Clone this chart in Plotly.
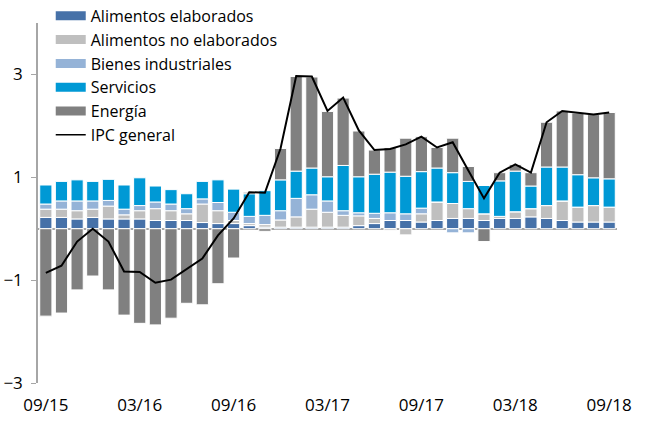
import plotly.graph_objects as go

months = ["09/15","10/15","11/15","12/15","01/16","02/16","03/16","04/16","05/16","06/16",
          "07/16","08/16","09/16","10/16","11/16","12/16","01/17","02/17","03/17","04/17",
          "05/17","06/17","07/17","08/17","09/17","10/17","11/17","12/17","01/18","02/18",
          "03/18","04/18","05/18","06/18","07/18","08/18","09/18"]

alim_elab = [0.22,0.22,0.19,0.22,0.19,0.19,0.19,0.16,0.16,0.16,
             0.12,0.10,0.10,0.06,0.03,0.03,0.03,0.03,0.03,0.03,
             0.06,0.10,0.16,0.16,0.13,0.16,0.20,0.20,0.16,0.20,
             0.20,0.23,0.20,0.16,0.13,0.13,0.13]
alim_no_elab = [0.16,0.16,0.16,0.16,0.25,0.08,0.16,0.23,0.19,0.13,
                0.36,0.25,0.06,0.04,0.05,0.14,0.20,0.35,0.29,0.23,
                0.19,0.10,-0.03,-0.12,0.16,0.36,0.29,0.19,0.13,0.04,
                0.13,0.16,0.25,0.38,0.29,0.32,0.29]
bienes_ind = [0.10,0.16,0.19,0.16,0.11,0.11,0.10,0.13,0.13,0.10,
              0.10,0.16,0.16,0.14,0.18,0.18,0.36,0.28,0.22,0.09,
              0.06,0.10,0.15,0.13,0.11,0.00,-0.08,-0.08,0.00,0.00,
              0.00,0.00,0.00,0.00,0.00,0.00,0.00]
servicios = [0.37,0.38,0.41,0.38,0.41,0.47,0.54,0.31,0.28,0.29,
             0.34,0.44,0.45,0.44,0.48,0.60,0.53,0.52,0.47,0.88,
             0.70,0.76,0.79,0.73,0.71,0.66,0.60,0.53,0.55,0.69,
             0.79,0.44,0.75,0.66,0.63,0.54,0.55]
energia = [-1.70,-1.64,-1.19,-0.92,-1.19,-1.68,-1.84,-1.87,-1.74,-1.45,
           -1.48,-1.07,-0.57,0.03,-0.05,0.61,1.84,1.77,1.27,1.31,
           0.89,0.47,0.48,0.74,0.68,0.40,0.67,0.29,-0.25,0.16,
           0.13,0.26,0.87,1.09,1.20,1.23,1.29]
ipc_general = [-0.86,-0.72,-0.25,0.00,-0.25,-0.83,-0.84,-1.05,-0.99,-0.79,
               -0.58,-0.13,0.20,0.71,0.70,1.56,2.97,2.96,2.29,2.55,
               1.91,1.53,1.55,1.64,1.79,1.58,1.68,1.13,0.59,1.09,
               1.25,1.09,2.07,2.29,2.25,2.22,2.26]

tick_labels = ["09/15","03/16","09/16","03/17","09/17","03/18","09/18"]
y_ticks = [-3, -1, 1, 3]

series = [
    ("Alimentos elaborados", alim_elab, "#4671A8"),
    ("Alimentos no elaborados", alim_no_elab, "#BFBFBF"),
    ("Bienes industriales", bienes_ind, "#95B3D7"),
    ("Servicios", servicios, "#0099D5"),
    ("Energía", energia, "#808080"),
]

fig = go.Figure()
for name, vals, col in series:
    fig.add_trace(go.Bar(x=months, y=vals, name=name, marker=dict(color=col, line=dict(color="white", width=1)),
                         showlegend=False))
fig.add_trace(go.Scatter(x=months, y=ipc_general, mode="lines", name="IPC general",
                         line=dict(color="black", width=2), showlegend=False))

# legend entries (wide swatches)
for name, vals, col in series:
    fig.add_trace(go.Scatter(x=[None], y=[None], mode="lines", name=name,
                             line=dict(color=col, width=9)))
fig.add_trace(go.Scatter(x=[None], y=[None], mode="lines", name="IPC general",
                         line=dict(color="black", width=1.5)))

fig.update_layout(
    width=646, height=422,
    margin=dict(l=38, r=29, t=23, b=39, autoexpand=False),
    paper_bgcolor="white", plot_bgcolor="white",
    barmode="relative", bargap=0.22,
    font=dict(family="Open Sans, Lato, sans-serif", size=17, color="black"),
    legend=dict(x=0.022, y=1.067, xanchor="left", yanchor="top", traceorder="normal",
                bgcolor="rgba(0,0,0,0)", font=dict(size=16), tracegroupgap=0, itemwidth=30),
)
fig.update_xaxes(type="category", tickvals=tick_labels, ticktext=tick_labels, showgrid=False,
                 showline=False, ticks="", ticklabelstandoff=10, range=[-0.5, 36.5], automargin=False)
fig.update_yaxes(range=[-3, 4], tickvals=y_ticks, showgrid=False, showline=True, linecolor="#A6A6A6",
                 linewidth=1.5, ticks="outside", ticklen=5, tickcolor="#A6A6A6",
                 zeroline=True, zerolinecolor="#A6A6A6", zerolinewidth=1.5, ticklabelstandoff=5,
                 automargin=False)

fig.write_html("out.html", config={"displayModeBar": False},
               post_script="document.body.style.margin='0';")
